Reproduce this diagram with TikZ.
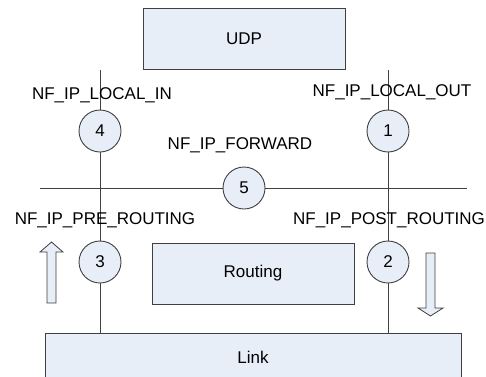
\documentclass[tikz,border=0pt]{standalone}
\usepackage{fontspec}
\setmainfont{Liberation Sans}
\usepackage{tikz}
\usetikzlibrary{positioning,calc}
\definecolor{boxfill}{HTML}{E8EEF7}
\definecolor{edge}{HTML}{404040}
\tikzset{
  layer/.style={draw=edge, fill=boxfill, line width=0.9pt, minimum width=202pt, minimum height=61pt, font=\fontsize{17}{20}\selectfont},
  hook/.style={circle, draw=edge, fill=boxfill, line width=0.9pt, minimum size=42pt, inner sep=0pt, font=\fontsize{17}{20}\selectfont},
  hookname/.style={inner sep=0pt, font=\fontsize{17}{20}\selectfont},
  wire/.style={draw=edge, line width=0.9pt},
  flow/.style={draw=edge, fill=boxfill, line width=0.8pt},
}

\begin{document}
\begin{tikzpicture}[x=1pt,y=1pt]
  \clip (0,0) rectangle (486,376);

  \node[layer] (udp) at (244,337) {UDP};
  \node[layer] (routing) at (253,102.5) {Routing};
  \node[layer, minimum width=416pt, minimum height=90pt, anchor=north] (link) at (253,43) {};
  \node[hookname] (linkname) at (253,19) {Link};

  \node[hook] (h4) at (100,245) {4};
  \node[hook] (h1) at (388,245) {1};
  \node[hook] (h5) at (244,188) {5};
  \node[hook] (h3) at (100,114) {3};
  \node[hook] (h2) at (388,114) {2};

  \coordinate (inTop) at (100,306);
  \coordinate (outTop) at (388,306);
  \coordinate (fwdLeft) at (40,188);
  \coordinate (fwdRight) at (467,188);

  % hook chains
  \draw[wire] (inTop) -- (h4);
  \draw[wire] (h4) -- (h3);
  \draw[wire] (h3) -- (h3 |- link.north);
  \draw[wire] (outTop) -- (h1);
  \draw[wire] (h1) -- (h2);
  \draw[wire] (h2) -- (h2 |- link.north);
  \draw[wire] (fwdLeft) -- (h5);
  \draw[wire] (h5) -- (fwdRight);

  \node[hookname] (nIn) at (102,281) {NF\_IP\_LOCAL\_IN};
  \node[hookname] (nOut) at (392,284) {NF\_IP\_LOCAL\_OUT};
  \node[hookname] (nFwd) at (240,231) {NF\_IP\_FORWARD};
  \node[hookname] (nPre) at (105,156) {NF\_IP\_PRE\_ROUTING};
  \node[hookname] (nPost) at (389,156) {NF\_IP\_POST\_ROUTING};

  % direction arrows
  \draw[flow] (47,73) -- (56,73) -- (56,124) -- (63,124) -- (51.5,134) -- (40,124) -- (47,124) -- cycle;
  \draw[flow] (426,123) -- (435,123) -- (435,68) -- (443,68) -- (430.5,60) -- (418,68) -- (426,68) -- cycle;
\end{tikzpicture}
\end{document}
